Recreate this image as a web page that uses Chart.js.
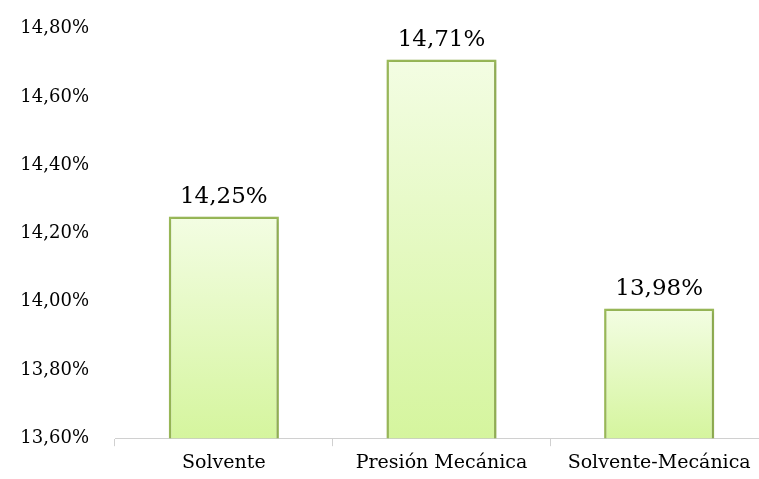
<!DOCTYPE html>
<html>
<head>
<meta charset="utf-8">
<script src="https://cdn.jsdelivr.net/npm/chart.js@4.4.0/dist/chart.umd.min.js"></script>
<style>
  html, body { margin: 0; padding: 0; background: #ffffff; overflow: hidden; }
  #wrap { width: 759px; height: 479px; position: relative; overflow: hidden; }
</style>
</head>
<body>
<div id="wrap"><canvas id="chart" width="768" height="479"></canvas></div>
<script>
// --- Chart data ---
const categories = ['Solvente', 'Presión Mecánica', 'Solvente-Mecánica'];
const values = [14.25, 14.71, 13.98];
const yTicks = [13.60, 13.80, 14.00, 14.20, 14.40, 14.60, 14.80];

const fmt = v => v.toFixed(2).replace('.', ',') + '%';
const FONT = "'DejaVu Serif', 'Liberation Serif', serif";

// Per-bar vertical gradient (light at top, greener at bottom)
function barGradient(context) {
    const chart = context.chart;
    const area = chart.chartArea;
    if (!area || context.parsed === undefined) return '#e4f8c0';
    const yScale = chart.scales.y;
    const top = yScale.getPixelForValue(context.parsed.y);
    const g = chart.ctx.createLinearGradient(0, top, 0, area.bottom);
    g.addColorStop(0, '#f3fde3');
    g.addColorStop(1, '#d5f59e');
    return g;
}

// Draw the value above each bar
const valueLabels = {
    id: 'valueLabels',
    afterDatasetsDraw(chart) {
        const ctx = chart.ctx;
        const meta = chart.getDatasetMeta(0);
        ctx.save();
        ctx.font = '23px ' + FONT;
        ctx.fillStyle = '#000000';
        ctx.textAlign = 'center';
        ctx.textBaseline = 'bottom';
        meta.data.forEach((bar, i) => {
            ctx.fillText(fmt(values[i]), bar.x, bar.y - 8);
        });
        ctx.restore();
    }
};

// Soft shadow behind bars
const barShadow = {
    id: 'barShadow',
    beforeDatasetsDraw(chart) {
        const ctx = chart.ctx;
        ctx.save();
        ctx.shadowColor = 'rgba(0,0,0,0.18)';
        ctx.shadowBlur = 4;
        ctx.shadowOffsetX = 1;
        ctx.shadowOffsetY = 1;
    },
    afterDatasetsDraw(chart) {
        chart.ctx.restore();
    }
};

new Chart(document.getElementById('chart'), {
    type: 'bar',
    data: {
        labels: categories,
        datasets: [{
            data: values,
            backgroundColor: barGradient,
            borderColor: '#9bbb59',
            borderWidth: 2.5,
            borderSkipped: 'bottom',
            categoryPercentage: 0.506,
            barPercentage: 1.0
        }]
    },
    options: {
        responsive: false,
        animation: false,
        layout: { padding: { top: 4, right: 0, bottom: 0, left: 0 } },
        plugins: {
            legend: { display: false },
            tooltip: { enabled: false }
        },
        scales: {
            y: {
                min: 13.6,
                max: 14.8,
                afterFit(scale) { scale.width = 115; },
                afterBuildTicks(scale) { scale.ticks = yTicks.map(v => ({ value: v })); },
                grid: { display: false },
                border: { display: false },
                ticks: {
                    font: { family: FONT, size: 18 },
                    color: '#000000',
                    padding: 18,
                    callback: v => fmt(v)
                }
            },
            x: {
                grid: {
                    display: true,
                    drawOnChartArea: false,
                    drawTicks: true,
                    tickLength: 8,
                    color: '#d0d0d0',
                    offset: true
                },
                border: { display: true, color: '#d0d0d0', width: 1 },
                ticks: {
                    font: { family: FONT, size: 19 },
                    color: '#000000',
                    padding: 5
                }
            }
        }
    },
    plugins: [barShadow, valueLabels]
});
</script>
</body>
</html>
